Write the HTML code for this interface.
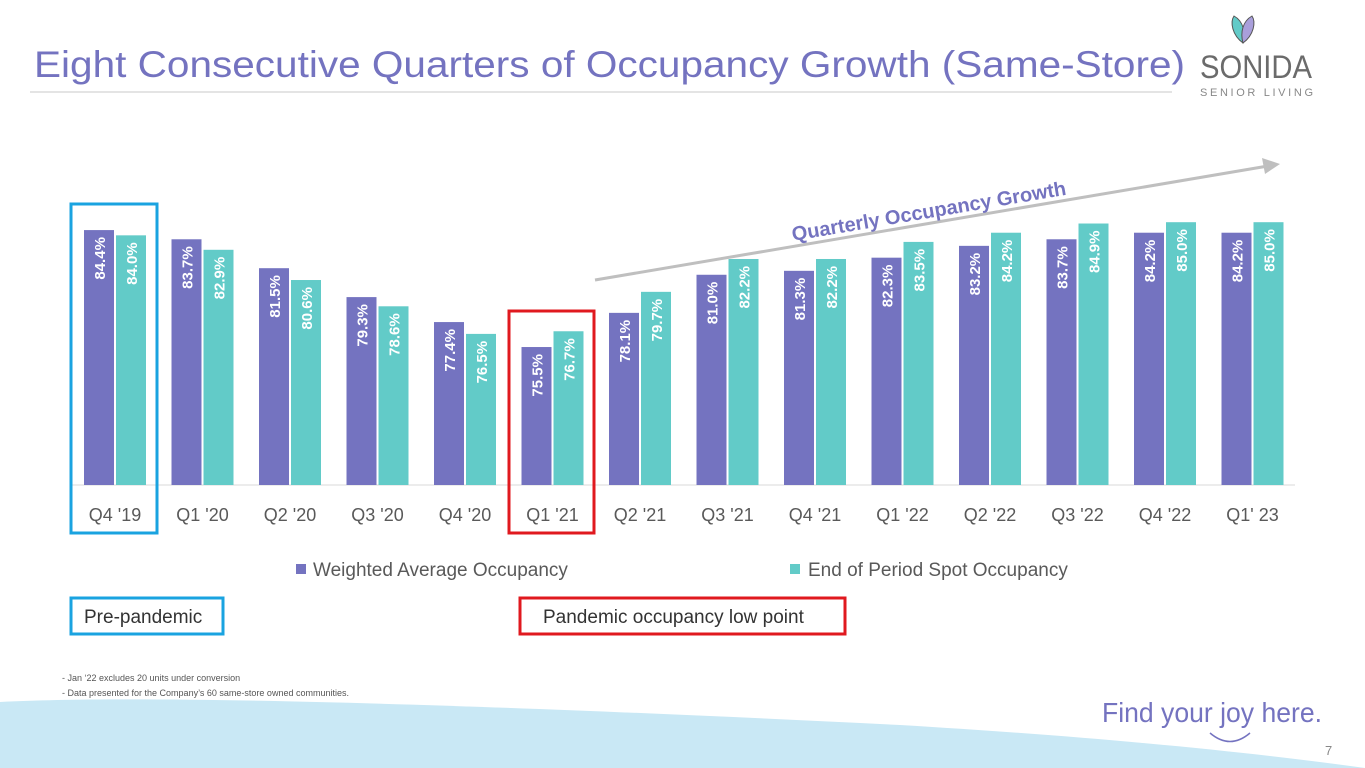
<!DOCTYPE html>
<html><head><meta charset="utf-8"><style>
body{margin:0;width:1365px;height:768px;overflow:hidden;background:#fff;font-family:"Liberation Sans",sans-serif}
svg{position:absolute;left:0;top:0}
</style></head><body>
<svg id="s" width="1365" height="768">
<path d="M0,702 C150,694 500,705 900,725 C1100,737 1250,752 1365,768 L0,768 Z" fill="#c9e8f5"/>
<text x="34" y="77" font-size="37" fill="#7473c0" textLength="1151" lengthAdjust="spacingAndGlyphs">Eight Consecutive Quarters of Occupancy Growth (Same-Store)</text>
<line x1="30" y1="92" x2="1172" y2="92" stroke="#c8c8c8" stroke-width="1"/>
<g>
<path d="M1243,43 C1232,35 1230,22 1234,16 C1243,21 1246,32 1243,43Z" fill="#62cbc8" stroke="#555" stroke-width="1"/>
<path d="M1243,43 C1254,35 1256,22 1252,16 C1243,21 1240,32 1243,43Z" fill="#a99fdb" stroke="#555" stroke-width="1"/>
<text x="1200" y="78" font-size="32" fill="#6b6b6b" textLength="112" lengthAdjust="spacingAndGlyphs">SONIDA</text>
<text x="1200" y="96" font-size="11" fill="#888" textLength="113" lengthAdjust="spacing">SENIOR LIVING</text>
</g>
<g id="chart"></g>
<line x1="595" y1="280" x2="1268" y2="166" stroke="#bfbfbf" stroke-width="3"/>
<polygon points="1280,164 1262,158 1265,174" fill="#bfbfbf"/>
<text transform="translate(793,241) rotate(-9.6)" font-size="20" font-weight="bold" fill="#7473c0">Quarterly Occupancy Growth</text>
<rect x="71" y="204" width="86" height="329" fill="none" stroke="#1aa3e0" stroke-width="3"/>
<rect x="509" y="311" width="85" height="222" fill="none" stroke="#e0191f" stroke-width="3"/>
<rect x="296" y="564" width="10" height="10" fill="#7473c0"/>
<text x="313" y="576" font-size="19" fill="#595959">Weighted Average Occupancy</text>
<rect x="790" y="564" width="10" height="10" fill="#62cbc8"/>
<text x="808" y="576" font-size="19" fill="#595959">End of Period Spot Occupancy</text>
<rect x="71" y="598" width="152" height="36" fill="none" stroke="#1aa3e0" stroke-width="3"/>
<text x="84" y="623" font-size="19" fill="#333">Pre-pandemic</text>
<rect x="520" y="598" width="325" height="36" fill="none" stroke="#e0191f" stroke-width="3"/>
<text x="543" y="623" font-size="19" fill="#333">Pandemic occupancy low point</text>
<text x="62" y="681" font-size="9" fill="#555">-     Jan ‘22 excludes 20 units under conversion</text>
<text x="62" y="696" font-size="9" fill="#555">-     Data presented for the Company’s 60 same-store owned communities.</text>
<text x="1102" y="722" font-size="28" fill="#7473c0" textLength="220" lengthAdjust="spacingAndGlyphs">Find your joy here.</text>
<path d="M1210,733 Q1230,750 1250,733" fill="none" stroke="#7473c0" stroke-width="1.5"/>
<text x="1325" y="755" font-size="13" fill="#888">7</text>
</svg>
<script>
const categories=["Q4 '19","Q1 '20","Q2 '20","Q3 '20","Q4 '20","Q1 '21","Q2 '21","Q3 '21","Q4 '21","Q1 '22","Q2 '22","Q3 '22","Q4 '22","Q1' 23"];
const weighted=[84.4,83.7,81.5,79.3,77.4,75.5,78.1,81.0,81.3,82.3,83.2,83.7,84.2,84.2];
const spot=[84.0,82.9,80.6,78.6,76.5,76.7,79.7,82.2,82.2,83.5,84.2,84.9,85.0,85.0];
const yMin=65, base=485, pxPer=13.14;
const y=v=>base-(v-yMin)*pxPer;
const xc=i=>115+i*87.5;
const g=document.getElementById('chart');
const NS="http://www.w3.org/2000/svg";
function mk(t,a){const e=document.createElementNS(NS,t);for(const k in a)e.setAttribute(k,a[k]);g.appendChild(e);return e;}
const ax=mk('line',{x1:70,y1:base,x2:1295,y2:base,stroke:'#d9d9d9'});


categories.forEach((c,i)=>{
 [[weighted[i],'#7473c0',-31,'weighted'],[spot[i],'#62cbc8',1,'spot']].forEach(([v,col,off,nm])=>{
  const r=mk('rect',{x:xc(i)+off,y:y(v),width:30,height:base-y(v),fill:col});
  
  
  const cx=xc(i)+off+15+6, ty=y(v)+7;
  const t=mk('text',{transform:`translate(${cx},${ty}) rotate(-90)`,'font-size':15,'font-weight':'bold',fill:'#fff','text-anchor':'end'});
  t.textContent=v.toFixed(1)+'%';
  
  
 });
 const l=mk('text',{x:xc(i),y:521,'font-size':18,fill:'#595959','text-anchor':'middle'});
 l.textContent=c;
 
 
});
</script>
</body></html>
